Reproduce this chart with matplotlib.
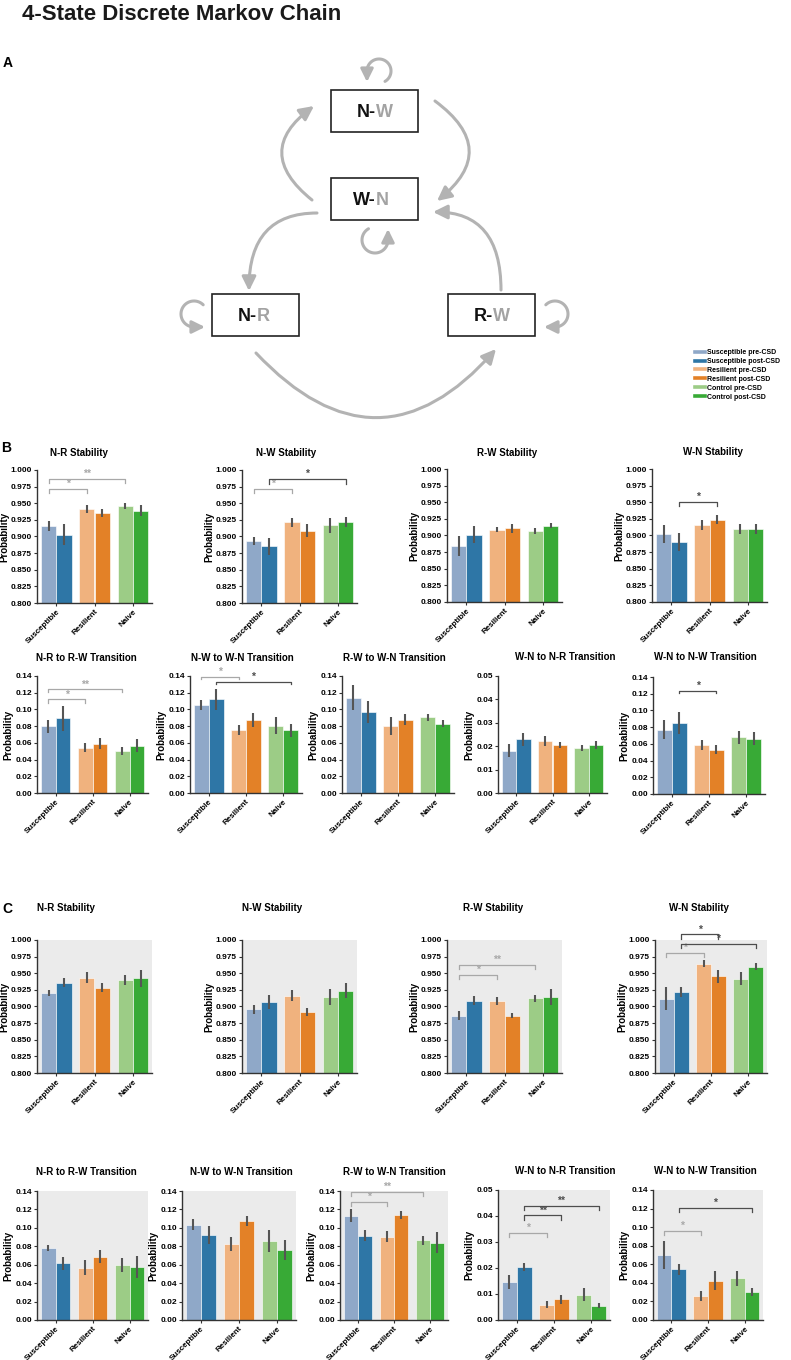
import numpy as np
import matplotlib
matplotlib.use("Agg")
import matplotlib.pyplot as plt
from matplotlib.patches import FancyArrowPatch, Rectangle, ArrowStyle
from matplotlib.path import Path
from matplotlib.lines import Line2D

plt.rcParams['font.family'] = ['Liberation Sans', 'DejaVu Sans']
plt.rcParams['font.weight'] = 'bold'

# ---------------- data ----------------
groups = ['Susceptible', 'Resilient', 'Naive']
conditions = ['Susceptible pre-CSD', 'Susceptible post-CSD', 'Resilient pre-CSD',
              'Resilient post-CSD', 'Control pre-CSD', 'Control post-CSD']
colors = ['#8fa8c8', '#2e76a6', '#f0b27e', '#e38127', '#9ccc86', '#38aa36']

# order: [Susc pre, Susc post, Res pre, Res post, Naive pre, Naive post]
b_nr_stab = [0.916, 0.903, 0.941, 0.935, 0.946, 0.939]
b_nr_stab_err = [0.0075, 0.016, 0.006, 0.006, 0.005, 0.0085]
b_nw_stab = [0.893, 0.885, 0.9215, 0.909, 0.917, 0.9225]
b_nw_stab_err = [0.006, 0.0125, 0.0065, 0.0105, 0.011, 0.0075]
b_rw_stab = [0.884, 0.901, 0.909, 0.911, 0.9075, 0.915]
b_rw_stab_err = [0.0155, 0.013, 0.004, 0.0068, 0.0045, 0.0043]
b_wn_stab = [0.902, 0.890, 0.916, 0.924, 0.910, 0.910]
b_wn_stab_err = [0.0135, 0.0135, 0.0075, 0.007, 0.0075, 0.0075]

b_nr_rw = [0.0796, 0.0892, 0.0544, 0.0592, 0.0504, 0.0568]
b_nr_rw_err = [0.0078, 0.015, 0.0054, 0.0066, 0.0046, 0.0078]
b_nw_wn = [0.105, 0.112, 0.0756, 0.0875, 0.0807, 0.0752]
b_nw_wn_err = [0.006, 0.0127, 0.006, 0.0087, 0.010, 0.0076]
b_rw_wn = [0.1141, 0.0967, 0.080, 0.0875, 0.0907, 0.0831]
b_rw_wn_err = [0.0147, 0.0135, 0.0107, 0.0066, 0.004, 0.004]
b_wn_nr = [0.0180, 0.0229, 0.0222, 0.0205, 0.0193, 0.0205]
b_wn_nr_err = [0.0028, 0.0028, 0.0023, 0.0014, 0.0012, 0.0018]
b_wn_nw = [0.077, 0.085, 0.0586, 0.0527, 0.0678, 0.0662]
b_wn_nw_err = [0.0116, 0.0136, 0.0064, 0.0054, 0.008, 0.008]

c_nr_stab = [0.9205, 0.9357, 0.9433, 0.928, 0.9397, 0.9423]
c_nr_stab_err = [0.0048, 0.0066, 0.0084, 0.0068, 0.0076, 0.013]
c_nw_stab = [0.8957, 0.9068, 0.9165, 0.892, 0.914, 0.924]
c_nw_stab_err = [0.0066, 0.010, 0.0076, 0.006, 0.0117, 0.011]
c_rw_stab = [0.886, 0.9089, 0.9089, 0.886, 0.9124, 0.915]
c_rw_stab_err = [0.0066, 0.0063, 0.006, 0.004, 0.0056, 0.012]
c_wn_stab = [0.912, 0.9216, 0.9643, 0.9457, 0.9417, 0.960]
c_wn_stab_err = [0.017, 0.007, 0.0055, 0.0098, 0.0095, 0.005]

c_nr_rw = [0.0782, 0.0614, 0.0567, 0.0686, 0.060, 0.0571]
c_nr_rw_err = [0.0036, 0.0075, 0.0083, 0.007, 0.0074, 0.012]
c_nw_wn = [0.1034, 0.0922, 0.0826, 0.1073, 0.0858, 0.0757]
c_nw_wn_err = [0.0057, 0.0097, 0.0074, 0.0054, 0.0122, 0.0106]
c_rw_wn = [0.1134, 0.0915, 0.0905, 0.114, 0.0864, 0.0839]
c_rw_wn_err = [0.0066, 0.0063, 0.0057, 0.004, 0.005, 0.0116]
c_wn_nr = [0.01454, 0.0205, 0.0059, 0.0079, 0.0098, 0.0055]
c_wn_nr_err = [0.0027, 0.0015, 0.0013, 0.0018, 0.0024, 0.001]
c_wn_nw = [0.0704, 0.0546, 0.0257, 0.0425, 0.045, 0.0304]
c_wn_nw_err = [0.015, 0.006, 0.005, 0.0104, 0.008, 0.0046]

stab_ticks = [0.800, 0.825, 0.850, 0.875, 0.900, 0.925, 0.950, 0.975, 1.000]
trans_ticks = [0.00, 0.02, 0.04, 0.06, 0.08, 0.10, 0.12, 0.14]
small_ticks = [0.00, 0.01, 0.02, 0.03, 0.04, 0.05]

# significance brackets: (bar i, bar j, level, drop, label, kind)
b_nr_stab_sig = [(0, 2, 0.971, 0.006, '*', 'pre'), (0, 4, 0.986, 0.005, '**', 'pre')]
b_nw_stab_sig = [(0, 2, 0.971, 0.006, '*', 'pre'), (1, 5, 0.986, 0.007, '*', 'post')]
b_wn_stab_sig = [(1, 3, 0.951, 0.007, '*', 'post')]
b_nr_rw_sig = [(0, 2, 0.112, 0.004, '*', 'pre'), (0, 4, 0.124, 0.003, '**', 'pre')]
b_nw_wn_sig = [(0, 2, 0.139, 0.003, '*', 'pre'), (1, 5, 0.133, 0.003, '*', 'post')]
b_wn_nw_sig = [(1, 3, 0.123, 0.0025, '*', 'post')]
c_rw_stab_sig = [(0, 2, 0.948, 0.006, '*', 'pre'), (0, 4, 0.962, 0.006, '**', 'pre')]
c_wn_stab_sig = [(0, 2, 0.980, 0.005, '*', 'pre'), (1, 3, 1.0085, 0.0075, '*', 'post'),
                 (1, 5, 0.994, 0.0065, '*', 'post')]
c_rw_wn_sig = [(0, 2, 0.1285, 0.0045, '*', 'pre'), (0, 4, 0.139, 0.0045, '**', 'pre')]
c_wn_nr_sig = [(0, 2, 0.0335, 0.0015, '*', 'pre'), (1, 3, 0.0402, 0.0017, '**', 'post'),
               (1, 5, 0.0439, 0.0017, '**', 'post')]
c_wn_nw_sig = [(0, 2, 0.096, 0.0042, '*', 'pre'), (1, 5, 0.1204, 0.0046, '*', 'post')]

# ---------------- figure ----------------
W, H = 791, 1360
fig = plt.figure(figsize=(W / 100, H / 100), dpi=100)

ov = fig.add_axes([0, 0, 1, 1])
ov.set_xlim(0, W)
ov.set_ylim(H, 0)
ov.axis('off')

ov.text(22, 20, '4-State Discrete Markov Chain', fontsize=16, weight='bold',
        ha='left', va='baseline', color='#1a1a1a')
ov.text(3, 67, 'A', fontsize=10, weight='bold', ha='left', va='baseline')
ov.text(1, 452, 'B', fontsize=10, weight='bold', ha='left', va='baseline')
ov.text(2, 913, 'C', fontsize=10, weight='bold', ha='left', va='baseline')

# ---- state diagram ----
arrow_col = '#b3b3b3'
boxes = [(331, 90, 'N-', 'W'), (331, 178, 'W-', 'N'), (212, 294, 'N-', 'R'), (448, 294, 'R-', 'W')]
for bx, by, t1, t2 in boxes:
    ov.add_patch(Rectangle((bx, by), 87, 42, fill=False, lw=1.2, ec='#222222'))
    cx, cy = bx + 44.5, by + 21
    ov.text(cx + 0.5, cy + 6, t1, fontsize=13, weight='bold', ha='right', va='baseline', color='#111111')
    ov.text(cx + 0.5, cy + 6, t2, fontsize=13, weight='bold', ha='left', va='baseline', color='#a3a3a3')

astyle = ArrowStyle('-|>', head_length=0.85, head_width=0.42)


def big_arrow(p0, p1, conn):
    ov.add_patch(FancyArrowPatch(p0, p1, connectionstyle=conn, arrowstyle=astyle,
                                 mutation_scale=10, lw=2.2, color=arrow_col,
                                 shrinkA=0, shrinkB=0))


big_arrow((312, 200), (314, 106), 'arc3,rad=-0.65')
big_arrow((435, 101), (437, 201), 'arc3,rad=-0.65')
big_arrow((317, 213), (249, 291), 'angle3,angleA=0,angleB=90')
big_arrow((501, 290), (433, 212), 'angle3,angleA=90,angleB=0')
big_arrow((256, 353), (496, 349), 'arc3,rad=0.55')


def loop_arrow(cx, cy, r, a0, a1, ext):
    th = np.radians(np.linspace(a0, a1, 60))
    verts = np.column_stack([cx + r * np.cos(th), cy - r * np.sin(th)])
    d = 1.0 if a1 > a0 else -1.0
    t = np.radians(a1)
    tang = np.array([-np.sin(t) * d, -np.cos(t) * d])
    verts = np.vstack([verts, verts[-1] + ext * tang])
    ov.add_patch(FancyArrowPatch(path=Path(verts), arrowstyle=astyle, mutation_scale=9,
                                 lw=2.2, color=arrow_col))


loop_arrow(379, 71, 12, -60, 180, 11)
loop_arrow(375, 240, 13, 120, 360, 11)
loop_arrow(194, 314, 13, 45, 270, 11)
loop_arrow(555, 314, 13, 135, -90, 11)

# legend
handles = [Line2D([], [], color=c, lw=2.6) for c in colors]
fig.legend(handles, conditions, loc='upper left', bbox_to_anchor=(695 / W, 1 - 349 / H),
           frameon=False, handlelength=1.4, handletextpad=0.3,
           labelspacing=0.28, borderpad=0, borderaxespad=0,
           prop={'weight': 'bold', 'size': 5.0})

# ---- bar panels ----
bar_x = []
for k in range(6):
    bar_x.append(k // 2 + (-0.2 if k % 2 == 0 else 0.2))

pre_col = '#a8a8a8'
post_col = '#4d4d4d'


def panel(rect, title, tpos, mean, err, ticks, fmt, sig, shaded):
    l, r, t, b = rect
    ax = fig.add_axes([l / W, 1 - b / H, (r - l) / W, (b - t) / H])
    ax.set_facecolor('#ebebeb' if shaded else 'white')
    ax.bar(bar_x, mean, width=0.4, color=colors, edgecolor='#ffffff99', linewidth=0.7, zorder=2)
    ax.errorbar(bar_x, mean, yerr=err, fmt='none', ecolor='#555555', elinewidth=1.5,
                capsize=0, zorder=3)
    ax.set_xlim(-0.5, 2.5)
    ax.set_ylim(ticks[0], ticks[-1])
    ax.set_yticks(ticks)
    ax.set_yticklabels([fmt % v for v in ticks])
    ax.set_xticks([0, 1, 2])
    ax.set_xticklabels(groups, rotation=45, ha='right', rotation_mode='anchor')
    ax.tick_params(axis='both', labelsize=6, length=2.5, width=0.8, color='#333333', pad=1.2)
    for lab in ax.get_xticklabels():
        lab.set_fontsize(5.8)
    ax.set_ylabel('Probability', fontsize=7, weight='bold', labelpad=1)
    for s in ['top', 'right']:
        ax.spines[s].set_visible(False)
    for s in ['left', 'bottom']:
        ax.spines[s].set_color('#333333')
        ax.spines[s].set_linewidth(1.0)
    for i, j, lev, drop, lab, kind in sig:
        col = pre_col if kind == 'pre' else post_col
        xi, xj = bar_x[i], bar_x[j]
        ax.plot([xi, xi, xj, xj], [lev - drop, lev, lev, lev - drop], color=col, lw=0.9,
                clip_on=False, zorder=4)
        ax.text((xi + xj) / 2, lev, lab, ha='center', va='bottom', fontsize=7.5,
                color=col, weight='bold', clip_on=False)
    ov.text(tpos[0], tpos[1], title, fontsize=7, weight='bold', ha='center', va='center')
    return ax


stab_fmt = '%.3f'
tr_fmt = '%.2f'

panel((37, 152, 470, 603), 'N-R Stability', (79, 453), b_nr_stab, b_nr_stab_err, stab_ticks, stab_fmt, b_nr_stab_sig, False)
panel((242, 357, 470, 603), 'N-W Stability', (286, 453), b_nw_stab, b_nw_stab_err, stab_ticks, stab_fmt, b_nw_stab_sig, False)
panel((447, 562, 469, 602), 'R-W Stability', (507, 453), b_rw_stab, b_rw_stab_err, stab_ticks, stab_fmt, [], False)
panel((652, 767, 469, 602), 'W-N Stability', (713, 452), b_wn_stab, b_wn_stab_err, stab_ticks, stab_fmt, b_wn_stab_sig, False)

panel((37, 148, 676, 793), 'N-R to R-W Transition', (86, 658), b_nr_rw, b_nr_rw_err, trans_ticks, tr_fmt, b_nr_rw_sig, False)
panel((190, 302, 676, 793), 'N-W to W-N Transition', (242, 658), b_nw_wn, b_nw_wn_err, trans_ticks, tr_fmt, b_nw_wn_sig, False)
panel((342, 454, 676, 793), 'R-W to W-N Transition', (394, 658), b_rw_wn, b_rw_wn_err, trans_ticks, tr_fmt, [], False)
panel((498, 607, 676, 793), 'W-N to N-R Transition', (565, 657), b_wn_nr, b_wn_nr_err, small_ticks, tr_fmt, [], False)
panel((653, 765, 677, 794), 'W-N to N-W Transition', (705, 657), b_wn_nw, b_wn_nw_err, trans_ticks, tr_fmt, b_wn_nw_sig, False)

panel((37, 152, 940, 1073), 'N-R Stability', (66, 908), c_nr_stab, c_nr_stab_err, stab_ticks, stab_fmt, [], True)
panel((242, 357, 940, 1073), 'N-W Stability', (272, 908), c_nw_stab, c_nw_stab_err, stab_ticks, stab_fmt, [], True)
panel((447, 562, 940, 1073), 'R-W Stability', (493, 908), c_rw_stab, c_rw_stab_err, stab_ticks, stab_fmt, c_rw_stab_sig, True)
panel((655, 767, 940, 1073), 'W-N Stability', (699, 908), c_wn_stab, c_wn_stab_err, stab_ticks, stab_fmt, c_wn_stab_sig, True)

panel((37, 148, 1191, 1320), 'N-R to R-W Transition', (86, 1172), c_nr_rw, c_nr_rw_err, trans_ticks, tr_fmt, [], True)
panel((182, 296, 1191, 1320), 'N-W to W-N Transition', (241, 1172), c_nw_wn, c_nw_wn_err, trans_ticks, tr_fmt, [], True)
panel((340, 448, 1191, 1320), 'R-W to W-N Transition', (394, 1172), c_rw_wn, c_rw_wn_err, trans_ticks, tr_fmt, c_rw_wn_sig, True)
panel((498, 610, 1190, 1320), 'W-N to N-R Transition', (565, 1171), c_wn_nr, c_wn_nr_err, small_ticks, tr_fmt, c_wn_nr_sig, True)
panel((653, 763, 1190, 1320), 'W-N to N-W Transition', (705, 1171), c_wn_nw, c_wn_nw_err, trans_ticks, tr_fmt, c_wn_nw_sig, True)

fig.savefig('out.png', dpi=100)
